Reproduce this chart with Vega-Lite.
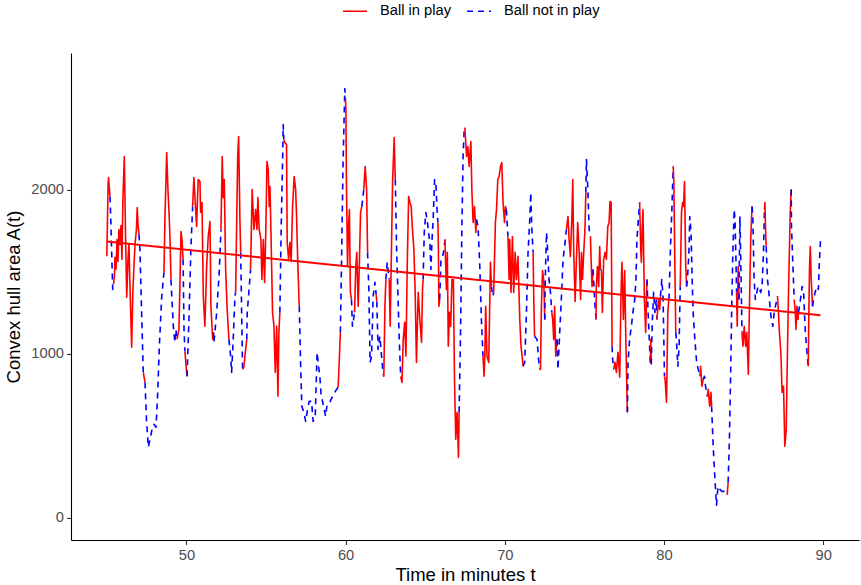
{
"$schema": "https://vega.github.io/schema/vega-lite/v6.json",
"width": 788, "height": 487,
"autosize": {"type": "none"},
"padding": {"left": 71, "top": 53, "right": 2, "bottom": 45},
"background": "white",
"config": {
 "view": {"stroke": null},
 "font": "Liberation Sans",
 "axis": {"grid": false, "domainColor": "black", "domainWidth": 1.1, "tickColor": "#333333", "tickWidth": 1.1, "tickSize": 4.5, "labelColor": "#4D4D4D", "labelFontSize": 14.7, "labelFont": "Liberation Sans", "titleFont": "Liberation Sans", "titleFontSize": 18.5, "titleFontWeight": "normal", "titleColor": "black", "labelPadding": 3}
},
"datasets": {
 "fit": [{"t": 45, "a": 1685}, {"t": 89.83, "a": 1234}],
 "d": [
{"t":45.00,"a":1595,"s":"R","g":1},{"t":45.08,"a":2032,"s":"R","g":1},{"t":45.11,"a":2075,"s":"R","g":1},{"t":45.16,"a":2002,"s":"R","g":1},{"t":45.20,"a":1959,"s":"R","g":1},
{"t":45.20,"a":1959,"s":"B","g":2},{"t":45.24,"a":1850,"s":"B","g":2},{"t":45.30,"a":1636,"s":"B","g":2},{"t":45.37,"a":1392,"s":"B","g":2},{"t":45.42,"a":1423,"s":"B","g":2},
{"t":45.42,"a":1423,"s":"R","g":3},{"t":45.48,"a":1478,"s":"R","g":3},{"t":45.51,"a":1588,"s":"R","g":3},{"t":45.58,"a":1515,"s":"R","g":3},{"t":45.64,"a":1697,"s":"R","g":3},{"t":45.70,"a":1563,"s":"R","g":3},{"t":45.76,"a":1758,"s":"R","g":3},{"t":45.83,"a":1667,"s":"R","g":3},{"t":45.89,"a":1782,"s":"R","g":3},{"t":45.95,"a":1576,"s":"R","g":3},{"t":46.01,"a":1941,"s":"R","g":3},{"t":46.10,"a":2203,"s":"R","g":3},{"t":46.17,"a":1758,"s":"R","g":3},{"t":46.25,"a":1344,"s":"R","g":3},{"t":46.33,"a":1576,"s":"R","g":3},{"t":46.39,"a":1667,"s":"R","g":3},{"t":46.46,"a":1392,"s":"R","g":3},{"t":46.56,"a":1039,"s":"R","g":3},{"t":46.64,"a":1392,"s":"R","g":3},{"t":46.77,"a":1667,"s":"R","g":3},{"t":46.86,"a":1758,"s":"R","g":3},{"t":46.91,"a":1892,"s":"R","g":3},{"t":46.96,"a":1789,"s":"R","g":3},{"t":47.02,"a":1728,"s":"R","g":3},
{"t":47.02,"a":1728,"s":"B","g":4},{"t":47.08,"a":1636,"s":"B","g":4},{"t":47.18,"a":1270,"s":"B","g":4},{"t":47.29,"a":886,"s":"B","g":4},
{"t":47.29,"a":886,"s":"R","g":5},{"t":47.40,"a":825,"s":"R","g":5},
{"t":47.40,"a":825,"s":"B","g":6},{"t":47.49,"a":599,"s":"B","g":6},{"t":47.61,"a":429,"s":"B","g":6},{"t":47.71,"a":477,"s":"B","g":6},{"t":47.84,"a":538,"s":"B","g":6},{"t":47.96,"a":569,"s":"B","g":6},{"t":48.09,"a":551,"s":"B","g":6},{"t":48.18,"a":722,"s":"B","g":6},{"t":48.30,"a":1045,"s":"B","g":6},{"t":48.45,"a":1350,"s":"B","g":6},{"t":48.59,"a":1496,"s":"B","g":6},
{"t":48.59,"a":1496,"s":"R","g":7},{"t":48.65,"a":1819,"s":"R","g":7},{"t":48.76,"a":2228,"s":"R","g":7},{"t":48.84,"a":2002,"s":"R","g":7},{"t":48.92,"a":1837,"s":"R","g":7},{"t":48.97,"a":1697,"s":"R","g":7},{"t":49.03,"a":1453,"s":"R","g":7},
{"t":49.03,"a":1453,"s":"B","g":8},{"t":49.09,"a":1331,"s":"B","g":8},{"t":49.19,"a":1148,"s":"B","g":8},{"t":49.28,"a":1069,"s":"B","g":8},{"t":49.34,"a":1148,"s":"B","g":8},{"t":49.41,"a":1087,"s":"B","g":8},
{"t":49.41,"a":1087,"s":"R","g":9},{"t":49.53,"a":1148,"s":"R","g":9},{"t":49.60,"a":1453,"s":"R","g":9},{"t":49.66,"a":1746,"s":"R","g":9},{"t":49.72,"a":1697,"s":"R","g":9},{"t":49.79,"a":1576,"s":"R","g":9},
{"t":49.79,"a":1576,"s":"B","g":10},{"t":49.85,"a":1148,"s":"B","g":10},{"t":49.91,"a":1014,"s":"B","g":10},
{"t":49.91,"a":1014,"s":"R","g":11},{"t":49.97,"a":935,"s":"R","g":11},{"t":50.04,"a":862,"s":"R","g":11},
{"t":50.04,"a":862,"s":"B","g":12},{"t":50.16,"a":1209,"s":"B","g":12},{"t":50.28,"a":1636,"s":"B","g":12},{"t":50.39,"a":1898,"s":"B","g":12},
{"t":50.39,"a":1898,"s":"R","g":13},{"t":50.47,"a":2075,"s":"R","g":13},{"t":50.64,"a":1776,"s":"R","g":13},{"t":50.74,"a":2063,"s":"R","g":13},{"t":50.85,"a":2051,"s":"R","g":13},{"t":50.89,"a":1862,"s":"R","g":13},{"t":50.98,"a":1923,"s":"R","g":13},{"t":51.06,"a":1350,"s":"R","g":13},{"t":51.16,"a":1167,"s":"R","g":13},{"t":51.27,"a":1532,"s":"R","g":13},{"t":51.37,"a":1715,"s":"R","g":13},{"t":51.48,"a":1807,"s":"R","g":13},{"t":51.54,"a":1289,"s":"R","g":13},{"t":51.65,"a":1087,"s":"R","g":13},{"t":51.70,"a":1130,"s":"R","g":13},
{"t":51.70,"a":1130,"s":"B","g":14},{"t":51.73,"a":1069,"s":"B","g":14},{"t":51.90,"a":1252,"s":"B","g":14},{"t":52.06,"a":1496,"s":"B","g":14},{"t":52.17,"a":1758,"s":"B","g":14},
{"t":52.17,"a":1758,"s":"R","g":15},{"t":52.25,"a":2203,"s":"R","g":15},{"t":52.31,"a":1953,"s":"R","g":15},{"t":52.38,"a":2063,"s":"R","g":15},{"t":52.46,"a":1532,"s":"R","g":15},{"t":52.56,"a":1270,"s":"R","g":15},{"t":52.67,"a":1087,"s":"R","g":15},
{"t":52.67,"a":1087,"s":"B","g":16},{"t":52.78,"a":984,"s":"B","g":16},{"t":52.84,"a":886,"s":"B","g":16},{"t":52.94,"a":1087,"s":"B","g":16},{"t":53.05,"a":1350,"s":"B","g":16},{"t":53.09,"a":1374,"s":"B","g":16},
{"t":53.09,"a":1374,"s":"R","g":17},{"t":53.22,"a":2203,"s":"R","g":17},{"t":53.28,"a":2325,"s":"R","g":17},{"t":53.36,"a":1819,"s":"R","g":17},{"t":53.41,"a":1618,"s":"R","g":17},
{"t":53.41,"a":1618,"s":"B","g":18},{"t":53.47,"a":1252,"s":"B","g":18},{"t":53.53,"a":904,"s":"B","g":18},
{"t":53.53,"a":904,"s":"R","g":19},{"t":53.61,"a":917,"s":"R","g":19},{"t":53.70,"a":1008,"s":"R","g":19},{"t":53.79,"a":1087,"s":"R","g":19},
{"t":53.79,"a":1087,"s":"B","g":20},{"t":53.82,"a":1252,"s":"B","g":20},{"t":53.95,"a":1410,"s":"B","g":20},{"t":54.03,"a":1514,"s":"B","g":20},
{"t":54.03,"a":1514,"s":"R","g":21},{"t":54.13,"a":2002,"s":"R","g":21},{"t":54.24,"a":1758,"s":"R","g":21},{"t":54.35,"a":1880,"s":"R","g":21},{"t":54.43,"a":1758,"s":"R","g":21},{"t":54.49,"a":1953,"s":"R","g":21},{"t":54.57,"a":1758,"s":"R","g":21},{"t":54.68,"a":1697,"s":"R","g":21},{"t":54.74,"a":1453,"s":"R","g":21},{"t":54.83,"a":1697,"s":"R","g":21},{"t":54.91,"a":1435,"s":"R","g":21},{"t":54.99,"a":1758,"s":"R","g":21},{"t":55.06,"a":2173,"s":"R","g":21},{"t":55.14,"a":2124,"s":"R","g":21},{"t":55.20,"a":1898,"s":"R","g":21},{"t":55.25,"a":2020,"s":"R","g":21},{"t":55.33,"a":1654,"s":"R","g":21},{"t":55.41,"a":1252,"s":"R","g":21},{"t":55.50,"a":1167,"s":"R","g":21},{"t":55.58,"a":886,"s":"R","g":21},{"t":55.67,"a":1167,"s":"R","g":21},{"t":55.75,"a":740,"s":"R","g":21},{"t":55.81,"a":1130,"s":"R","g":21},{"t":55.87,"a":1252,"s":"R","g":21},
{"t":55.87,"a":1252,"s":"B","g":22},{"t":55.95,"a":1758,"s":"B","g":22},{"t":56.04,"a":2167,"s":"B","g":22},{"t":56.08,"a":2398,"s":"B","g":22},{"t":56.12,"a":2307,"s":"B","g":22},
{"t":56.12,"a":2307,"s":"R","g":23},{"t":56.18,"a":2289,"s":"R","g":23},{"t":56.29,"a":2277,"s":"R","g":23},{"t":56.33,"a":1679,"s":"R","g":23},{"t":56.42,"a":1576,"s":"R","g":23},{"t":56.50,"a":1679,"s":"R","g":23},{"t":56.58,"a":1563,"s":"R","g":23},{"t":56.67,"a":1898,"s":"R","g":23},{"t":56.77,"a":2081,"s":"R","g":23},{"t":56.86,"a":2002,"s":"R","g":23},{"t":56.92,"a":1837,"s":"R","g":23},{"t":56.99,"a":1576,"s":"R","g":23},{"t":57.07,"a":1331,"s":"R","g":23},{"t":57.09,"a":1289,"s":"R","g":23},
{"t":57.09,"a":1289,"s":"B","g":24},{"t":57.17,"a":947,"s":"B","g":24},{"t":57.25,"a":679,"s":"B","g":24},{"t":57.38,"a":642,"s":"B","g":24},{"t":57.49,"a":587,"s":"B","g":24},{"t":57.59,"a":648,"s":"B","g":24},{"t":57.71,"a":709,"s":"B","g":24},{"t":57.86,"a":709,"s":"B","g":24},{"t":57.96,"a":587,"s":"B","g":24},{"t":58.09,"a":612,"s":"B","g":24},{"t":58.21,"a":1008,"s":"B","g":24},{"t":58.30,"a":923,"s":"B","g":24},{"t":58.38,"a":862,"s":"B","g":24},{"t":58.46,"a":752,"s":"B","g":24},{"t":58.59,"a":691,"s":"B","g":24},{"t":58.74,"a":618,"s":"B","g":24},{"t":58.84,"a":691,"s":"B","g":24},{"t":59.01,"a":703,"s":"B","g":24},{"t":59.18,"a":740,"s":"B","g":24},{"t":59.32,"a":764,"s":"B","g":24},{"t":59.43,"a":782,"s":"B","g":24},{"t":59.53,"a":795,"s":"B","g":24},
{"t":59.53,"a":795,"s":"R","g":25},{"t":59.58,"a":904,"s":"R","g":25},{"t":59.63,"a":1026,"s":"R","g":25},{"t":59.67,"a":1130,"s":"R","g":25},
{"t":59.67,"a":1130,"s":"B","g":26},{"t":59.74,"a":1532,"s":"B","g":26},{"t":59.84,"a":2167,"s":"B","g":26},{"t":59.95,"a":2618,"s":"B","g":26},{"t":59.99,"a":2551,"s":"B","g":26},
{"t":59.99,"a":2551,"s":"R","g":27},{"t":60.02,"a":2490,"s":"R","g":27},{"t":60.05,"a":2063,"s":"R","g":27},{"t":60.12,"a":1532,"s":"R","g":27},{"t":60.18,"a":1776,"s":"R","g":27},{"t":60.24,"a":1880,"s":"R","g":27},{"t":60.30,"a":1374,"s":"R","g":27},{"t":60.37,"a":1331,"s":"R","g":27},
{"t":60.37,"a":1331,"s":"B","g":28},{"t":60.43,"a":1167,"s":"B","g":28},{"t":60.50,"a":1209,"s":"B","g":28},{"t":60.56,"a":1252,"s":"B","g":28},
{"t":60.56,"a":1252,"s":"R","g":29},{"t":60.64,"a":1532,"s":"R","g":29},{"t":60.70,"a":1618,"s":"R","g":29},{"t":60.79,"a":1289,"s":"R","g":29},{"t":60.86,"a":1532,"s":"R","g":29},{"t":60.94,"a":1862,"s":"R","g":29},{"t":61.02,"a":1898,"s":"R","g":29},
{"t":61.02,"a":1898,"s":"B","g":30},{"t":61.14,"a":2002,"s":"B","g":30},
{"t":61.14,"a":2002,"s":"R","g":31},{"t":61.23,"a":2142,"s":"R","g":31},{"t":61.32,"a":2002,"s":"R","g":31},{"t":61.38,"a":1618,"s":"R","g":31},
{"t":61.38,"a":1618,"s":"B","g":32},{"t":61.46,"a":1392,"s":"B","g":32},{"t":61.54,"a":947,"s":"B","g":32},{"t":61.63,"a":984,"s":"B","g":32},{"t":61.73,"a":1350,"s":"B","g":32},{"t":61.84,"a":1435,"s":"B","g":32},{"t":61.92,"a":1362,"s":"B","g":32},
{"t":61.92,"a":1362,"s":"R","g":33},{"t":61.96,"a":1319,"s":"R","g":33},
{"t":61.96,"a":1319,"s":"B","g":34},{"t":62.04,"a":1026,"s":"B","g":34},{"t":62.15,"a":1106,"s":"B","g":34},{"t":62.26,"a":984,"s":"B","g":34},{"t":62.36,"a":874,"s":"B","g":34},
{"t":62.36,"a":874,"s":"R","g":35},{"t":62.40,"a":862,"s":"R","g":35},{"t":62.47,"a":1289,"s":"R","g":35},{"t":62.53,"a":1453,"s":"R","g":35},
{"t":62.53,"a":1453,"s":"B","g":36},{"t":62.61,"a":1557,"s":"B","g":36},{"t":62.70,"a":1484,"s":"B","g":36},{"t":62.74,"a":1453,"s":"B","g":36},
{"t":62.74,"a":1453,"s":"R","g":37},{"t":62.80,"a":1167,"s":"R","g":37},{"t":62.89,"a":1697,"s":"R","g":37},{"t":62.95,"a":2045,"s":"R","g":37},{"t":63.05,"a":2319,"s":"R","g":37},{"t":63.12,"a":2063,"s":"R","g":37},
{"t":63.12,"a":2063,"s":"B","g":38},{"t":63.20,"a":1654,"s":"B","g":38},{"t":63.29,"a":1350,"s":"B","g":38},{"t":63.37,"a":1087,"s":"B","g":38},{"t":63.46,"a":862,"s":"B","g":38},
{"t":63.46,"a":862,"s":"R","g":39},{"t":63.54,"a":825,"s":"R","g":39},{"t":63.62,"a":1087,"s":"R","g":39},{"t":63.71,"a":1191,"s":"R","g":39},{"t":63.79,"a":984,"s":"R","g":39},{"t":63.87,"a":1532,"s":"R","g":39},{"t":63.96,"a":1959,"s":"R","g":39},{"t":64.04,"a":1923,"s":"R","g":39},{"t":64.12,"a":1898,"s":"R","g":39},{"t":64.20,"a":1758,"s":"R","g":39},{"t":64.29,"a":1636,"s":"R","g":39},{"t":64.37,"a":1374,"s":"R","g":39},{"t":64.45,"a":947,"s":"R","g":39},{"t":64.56,"a":1374,"s":"R","g":39},{"t":64.66,"a":1209,"s":"R","g":39},{"t":64.77,"a":1069,"s":"R","g":39},{"t":64.83,"a":1392,"s":"R","g":39},{"t":64.87,"a":1453,"s":"R","g":39},
{"t":64.87,"a":1453,"s":"B","g":40},{"t":64.94,"a":1740,"s":"B","g":40},{"t":65.04,"a":1862,"s":"B","g":40},{"t":65.12,"a":1819,"s":"B","g":40},{"t":65.19,"a":1758,"s":"B","g":40},{"t":65.29,"a":1679,"s":"B","g":40},{"t":65.36,"a":1514,"s":"B","g":40},{"t":65.42,"a":1679,"s":"B","g":40},{"t":65.50,"a":1819,"s":"B","g":40},{"t":65.59,"a":2063,"s":"B","g":40},{"t":65.67,"a":2045,"s":"B","g":40},{"t":65.75,"a":1862,"s":"B","g":40},{"t":65.80,"a":1801,"s":"B","g":40},
{"t":65.80,"a":1801,"s":"R","g":41},{"t":65.83,"a":1636,"s":"R","g":41},{"t":65.86,"a":1289,"s":"R","g":41},{"t":65.91,"a":1331,"s":"R","g":41},
{"t":65.91,"a":1331,"s":"B","g":42},{"t":65.99,"a":1576,"s":"B","g":42},{"t":66.10,"a":1594,"s":"B","g":42},{"t":66.18,"a":1636,"s":"B","g":42},{"t":66.24,"a":1697,"s":"B","g":42},
{"t":66.24,"a":1697,"s":"R","g":43},{"t":66.33,"a":1392,"s":"R","g":43},{"t":66.39,"a":1618,"s":"R","g":43},{"t":66.45,"a":1045,"s":"R","g":43},{"t":66.53,"a":1252,"s":"R","g":43},{"t":66.60,"a":1167,"s":"R","g":43},{"t":66.68,"a":1453,"s":"R","g":43},{"t":66.77,"a":1453,"s":"R","g":43},{"t":66.84,"a":843,"s":"R","g":43},{"t":66.92,"a":478,"s":"R","g":43},{"t":67.00,"a":642,"s":"R","g":43},{"t":67.09,"a":368,"s":"R","g":43},{"t":67.13,"a":642,"s":"R","g":43},
{"t":67.13,"a":642,"s":"B","g":44},{"t":67.22,"a":1130,"s":"B","g":44},{"t":67.30,"a":1740,"s":"B","g":44},{"t":67.38,"a":2203,"s":"B","g":44},{"t":67.45,"a":2368,"s":"B","g":44},{"t":67.49,"a":2380,"s":"B","g":44},
{"t":67.49,"a":2380,"s":"R","g":45},{"t":67.60,"a":2203,"s":"R","g":45},{"t":67.68,"a":2264,"s":"R","g":45},{"t":67.76,"a":2142,"s":"R","g":45},{"t":67.87,"a":2295,"s":"R","g":45},{"t":67.93,"a":2002,"s":"R","g":45},{"t":68.01,"a":1801,"s":"R","g":45},{"t":68.10,"a":1898,"s":"R","g":45},{"t":68.18,"a":1740,"s":"R","g":45},{"t":68.22,"a":1819,"s":"R","g":45},
{"t":68.22,"a":1819,"s":"B","g":46},{"t":68.32,"a":1776,"s":"B","g":46},{"t":68.43,"a":1532,"s":"B","g":46},{"t":68.53,"a":1209,"s":"B","g":46},{"t":68.63,"a":984,"s":"B","g":46},
{"t":68.63,"a":984,"s":"R","g":47},{"t":68.70,"a":862,"s":"R","g":47},{"t":68.74,"a":965,"s":"R","g":47},{"t":68.80,"a":1289,"s":"R","g":47},{"t":68.88,"a":984,"s":"R","g":47},{"t":68.99,"a":947,"s":"R","g":47},{"t":69.10,"a":1557,"s":"R","g":47},{"t":69.16,"a":1410,"s":"R","g":47},
{"t":69.16,"a":1410,"s":"B","g":48},{"t":69.26,"a":1350,"s":"B","g":48},{"t":69.30,"a":1374,"s":"B","g":48},
{"t":69.30,"a":1374,"s":"R","g":49},{"t":69.41,"a":1801,"s":"R","g":49},{"t":69.48,"a":1880,"s":"R","g":49},{"t":69.56,"a":2063,"s":"R","g":49},{"t":69.64,"a":2081,"s":"R","g":49},{"t":69.73,"a":2142,"s":"R","g":49},{"t":69.81,"a":2167,"s":"R","g":49},{"t":69.89,"a":1923,"s":"R","g":49},{"t":69.98,"a":1801,"s":"R","g":49},{"t":70.04,"a":1898,"s":"R","g":49},{"t":70.10,"a":1880,"s":"R","g":49},
{"t":70.10,"a":1880,"s":"B","g":50},{"t":70.16,"a":1776,"s":"B","g":50},{"t":70.20,"a":1715,"s":"B","g":50},
{"t":70.20,"a":1715,"s":"R","g":51},{"t":70.27,"a":1453,"s":"R","g":51},{"t":70.31,"a":1697,"s":"R","g":51},{"t":70.39,"a":1374,"s":"R","g":51},{"t":70.48,"a":1715,"s":"R","g":51},{"t":70.56,"a":1374,"s":"R","g":51},{"t":70.65,"a":1618,"s":"R","g":51},{"t":70.73,"a":1453,"s":"R","g":51},{"t":70.83,"a":1594,"s":"R","g":51},{"t":70.94,"a":1209,"s":"R","g":51},{"t":71.02,"a":1045,"s":"R","g":51},{"t":71.11,"a":965,"s":"R","g":51},{"t":71.15,"a":923,"s":"R","g":51},
{"t":71.15,"a":923,"s":"B","g":52},{"t":71.25,"a":947,"s":"B","g":52},{"t":71.36,"a":1252,"s":"B","g":52},{"t":71.46,"a":1618,"s":"B","g":52},{"t":71.57,"a":1819,"s":"B","g":52},{"t":71.63,"a":1983,"s":"B","g":52},{"t":71.70,"a":1758,"s":"B","g":52},{"t":71.78,"a":1618,"s":"B","g":52},
{"t":71.78,"a":1618,"s":"R","g":53},{"t":71.82,"a":1331,"s":"R","g":53},{"t":71.87,"a":1106,"s":"R","g":53},
{"t":71.87,"a":1106,"s":"B","g":54},{"t":72.03,"a":1087,"s":"B","g":54},{"t":72.12,"a":965,"s":"B","g":54},{"t":72.20,"a":904,"s":"B","g":54},
{"t":72.20,"a":904,"s":"R","g":55},{"t":72.24,"a":904,"s":"R","g":55},{"t":72.30,"a":1289,"s":"R","g":55},{"t":72.37,"a":1508,"s":"R","g":55},{"t":72.45,"a":1447,"s":"R","g":55},{"t":72.51,"a":1209,"s":"R","g":55},
{"t":72.51,"a":1209,"s":"B","g":56},{"t":72.54,"a":1453,"s":"B","g":56},{"t":72.62,"a":1740,"s":"B","g":56},{"t":72.70,"a":1618,"s":"B","g":56},{"t":72.78,"a":1453,"s":"B","g":56},{"t":72.87,"a":1374,"s":"B","g":56},{"t":72.95,"a":1252,"s":"B","g":56},
{"t":72.95,"a":1252,"s":"R","g":57},{"t":73.01,"a":1209,"s":"R","g":57},{"t":73.07,"a":1087,"s":"R","g":57},{"t":73.13,"a":1289,"s":"R","g":57},{"t":73.20,"a":984,"s":"R","g":57},{"t":73.28,"a":1087,"s":"R","g":57},
{"t":73.28,"a":1087,"s":"B","g":58},{"t":73.34,"a":904,"s":"B","g":58},{"t":73.45,"a":1130,"s":"B","g":58},{"t":73.55,"a":1331,"s":"B","g":58},{"t":73.66,"a":1576,"s":"B","g":58},{"t":73.76,"a":1654,"s":"B","g":58},{"t":73.87,"a":1758,"s":"B","g":58},
{"t":73.87,"a":1758,"s":"R","g":59},{"t":73.97,"a":1837,"s":"R","g":59},{"t":74.04,"a":1697,"s":"R","g":59},{"t":74.12,"a":1594,"s":"R","g":59},{"t":74.21,"a":1819,"s":"R","g":59},{"t":74.27,"a":2063,"s":"R","g":59},{"t":74.33,"a":1618,"s":"R","g":59},{"t":74.42,"a":1319,"s":"R","g":59},{"t":74.50,"a":1576,"s":"R","g":59},{"t":74.58,"a":1801,"s":"R","g":59},{"t":74.67,"a":1618,"s":"R","g":59},{"t":74.76,"a":1331,"s":"R","g":59},{"t":74.82,"a":1618,"s":"R","g":59},{"t":74.88,"a":1453,"s":"R","g":59},{"t":74.96,"a":1618,"s":"R","g":59},{"t":75.04,"a":1776,"s":"R","g":59},{"t":75.09,"a":1983,"s":"R","g":59},
{"t":75.09,"a":1983,"s":"B","g":60},{"t":75.13,"a":2185,"s":"B","g":60},{"t":75.21,"a":2020,"s":"B","g":60},{"t":75.30,"a":1758,"s":"B","g":60},{"t":75.38,"a":1715,"s":"B","g":60},
{"t":75.38,"a":1715,"s":"R","g":61},{"t":75.42,"a":1576,"s":"R","g":61},{"t":75.48,"a":1410,"s":"R","g":61},{"t":75.54,"a":1514,"s":"R","g":61},
{"t":75.54,"a":1514,"s":"B","g":62},{"t":75.67,"a":1289,"s":"B","g":62},{"t":75.73,"a":1209,"s":"B","g":62},
{"t":75.73,"a":1209,"s":"R","g":63},{"t":75.75,"a":1410,"s":"R","g":63},{"t":75.82,"a":1532,"s":"R","g":63},{"t":75.90,"a":1410,"s":"R","g":63},{"t":75.96,"a":1654,"s":"R","g":63},{"t":76.01,"a":1514,"s":"R","g":63},
{"t":76.01,"a":1514,"s":"B","g":64},{"t":76.07,"a":1508,"s":"B","g":64},
{"t":76.07,"a":1508,"s":"R","g":65},{"t":76.13,"a":1252,"s":"R","g":65},{"t":76.21,"a":1576,"s":"R","g":65},{"t":76.30,"a":1618,"s":"R","g":65},{"t":76.38,"a":1576,"s":"R","g":65},{"t":76.47,"a":1776,"s":"R","g":65},{"t":76.55,"a":1801,"s":"R","g":65},{"t":76.61,"a":1929,"s":"R","g":65},{"t":76.68,"a":1923,"s":"R","g":65},{"t":76.74,"a":1045,"s":"R","g":65},
{"t":76.74,"a":1045,"s":"B","g":66},{"t":76.76,"a":984,"s":"B","g":66},{"t":76.84,"a":904,"s":"B","g":66},
{"t":76.84,"a":904,"s":"R","g":67},{"t":76.92,"a":947,"s":"R","g":67},{"t":77.01,"a":886,"s":"R","g":67},{"t":77.11,"a":1008,"s":"R","g":67},{"t":77.22,"a":856,"s":"R","g":67},{"t":77.30,"a":1374,"s":"R","g":67},{"t":77.36,"a":1557,"s":"R","g":67},{"t":77.45,"a":1209,"s":"R","g":67},{"t":77.53,"a":1508,"s":"R","g":67},{"t":77.61,"a":1045,"s":"R","g":67},{"t":77.70,"a":642,"s":"R","g":67},
{"t":77.70,"a":642,"s":"B","g":68},{"t":77.74,"a":947,"s":"B","g":68},{"t":77.84,"a":1087,"s":"B","g":68},{"t":77.95,"a":1167,"s":"B","g":68},{"t":78.05,"a":1252,"s":"B","g":68},{"t":78.16,"a":1331,"s":"B","g":68},{"t":78.24,"a":1453,"s":"B","g":68},{"t":78.30,"a":1697,"s":"B","g":68},{"t":78.39,"a":1819,"s":"B","g":68},{"t":78.47,"a":1923,"s":"B","g":68},
{"t":78.47,"a":1923,"s":"R","g":69},{"t":78.54,"a":1636,"s":"R","g":69},{"t":78.58,"a":1557,"s":"R","g":69},{"t":78.63,"a":1758,"s":"R","g":69},{"t":78.68,"a":1880,"s":"R","g":69},{"t":78.77,"a":1331,"s":"R","g":69},{"t":78.85,"a":1130,"s":"R","g":69},{"t":78.93,"a":1453,"s":"R","g":69},
{"t":78.93,"a":1453,"s":"B","g":70},{"t":79.00,"a":1252,"s":"B","g":70},{"t":79.06,"a":1130,"s":"B","g":70},{"t":79.14,"a":947,"s":"B","g":70},
{"t":79.14,"a":947,"s":"R","g":71},{"t":79.17,"a":1087,"s":"R","g":71},{"t":79.20,"a":935,"s":"R","g":71},
{"t":79.20,"a":935,"s":"B","g":72},{"t":79.27,"a":1209,"s":"B","g":72},{"t":79.35,"a":1374,"s":"B","g":72},{"t":79.43,"a":1252,"s":"B","g":72},{"t":79.52,"a":1331,"s":"B","g":72},{"t":79.56,"a":1209,"s":"B","g":72},
{"t":79.56,"a":1209,"s":"R","g":73},{"t":79.65,"a":1331,"s":"R","g":73},{"t":79.73,"a":1270,"s":"R","g":73},{"t":79.78,"a":1350,"s":"R","g":73},
{"t":79.78,"a":1350,"s":"B","g":74},{"t":79.86,"a":1453,"s":"B","g":74},{"t":79.94,"a":1350,"s":"B","g":74},{"t":80.03,"a":862,"s":"B","g":74},
{"t":80.03,"a":862,"s":"R","g":75},{"t":80.07,"a":843,"s":"R","g":75},{"t":80.16,"a":703,"s":"R","g":75},{"t":80.24,"a":1252,"s":"R","g":75},{"t":80.30,"a":1331,"s":"R","g":75},
{"t":80.30,"a":1331,"s":"B","g":76},{"t":80.32,"a":1350,"s":"B","g":76},{"t":80.41,"a":1654,"s":"B","g":76},{"t":80.49,"a":1862,"s":"B","g":76},{"t":80.58,"a":2142,"s":"B","g":76},
{"t":80.58,"a":2142,"s":"R","g":77},{"t":80.62,"a":2045,"s":"R","g":77},{"t":80.68,"a":1557,"s":"R","g":77},{"t":80.74,"a":1130,"s":"R","g":77},
{"t":80.74,"a":1130,"s":"B","g":78},{"t":80.78,"a":1087,"s":"B","g":78},{"t":80.87,"a":923,"s":"B","g":78},{"t":80.95,"a":1045,"s":"B","g":78},{"t":81.02,"a":1410,"s":"B","g":78},
{"t":81.02,"a":1410,"s":"R","g":79},{"t":81.10,"a":1862,"s":"R","g":79},{"t":81.17,"a":1923,"s":"R","g":79},{"t":81.23,"a":1898,"s":"R","g":79},{"t":81.29,"a":2051,"s":"R","g":79},{"t":81.36,"a":1557,"s":"R","g":79},{"t":81.42,"a":1410,"s":"R","g":79},
{"t":81.42,"a":1410,"s":"B","g":80},{"t":81.47,"a":1453,"s":"B","g":80},{"t":81.52,"a":1532,"s":"B","g":80},{"t":81.58,"a":1654,"s":"B","g":80},{"t":81.62,"a":1837,"s":"B","g":80},{"t":81.70,"a":1740,"s":"B","g":80},{"t":81.77,"a":1453,"s":"B","g":80},{"t":81.83,"a":1252,"s":"B","g":80},{"t":81.94,"a":1087,"s":"B","g":80},{"t":82.05,"a":947,"s":"B","g":80},{"t":82.15,"a":904,"s":"B","g":80},{"t":82.26,"a":862,"s":"B","g":80},
{"t":82.26,"a":862,"s":"R","g":81},{"t":82.30,"a":923,"s":"R","g":81},{"t":82.38,"a":801,"s":"R","g":81},{"t":82.46,"a":843,"s":"R","g":81},
{"t":82.46,"a":843,"s":"B","g":82},{"t":82.54,"a":862,"s":"B","g":82},{"t":82.61,"a":801,"s":"B","g":82},{"t":82.72,"a":740,"s":"B","g":82},
{"t":82.72,"a":740,"s":"R","g":83},{"t":82.78,"a":782,"s":"R","g":83},{"t":82.83,"a":722,"s":"R","g":83},{"t":82.87,"a":679,"s":"R","g":83},{"t":82.95,"a":764,"s":"R","g":83},{"t":82.99,"a":679,"s":"R","g":83},
{"t":82.99,"a":679,"s":"B","g":84},{"t":83.09,"a":435,"s":"B","g":84},{"t":83.20,"a":234,"s":"B","g":84},{"t":83.30,"a":75,"s":"B","g":84},{"t":83.39,"a":190,"s":"B","g":84},{"t":83.51,"a":172,"s":"B","g":84},{"t":83.64,"a":160,"s":"B","g":84},{"t":83.76,"a":160,"s":"B","g":84},{"t":83.93,"a":142,"s":"B","g":84},
{"t":83.93,"a":142,"s":"R","g":85},{"t":83.97,"a":142,"s":"R","g":85},{"t":84.03,"a":214,"s":"R","g":85},
{"t":84.03,"a":214,"s":"B","g":86},{"t":84.11,"a":478,"s":"B","g":86},{"t":84.18,"a":843,"s":"B","g":86},{"t":84.25,"a":1252,"s":"B","g":86},{"t":84.33,"a":1636,"s":"B","g":86},{"t":84.41,"a":1880,"s":"B","g":86},{"t":84.46,"a":1819,"s":"B","g":86},{"t":84.52,"a":1576,"s":"B","g":86},{"t":84.56,"a":1374,"s":"B","g":86},
{"t":84.56,"a":1374,"s":"R","g":87},{"t":84.60,"a":1167,"s":"R","g":87},{"t":84.66,"a":1532,"s":"R","g":87},{"t":84.71,"a":1331,"s":"R","g":87},
{"t":84.71,"a":1331,"s":"B","g":88},{"t":84.73,"a":1532,"s":"B","g":88},{"t":84.77,"a":1838,"s":"B","g":88},{"t":84.83,"a":1532,"s":"B","g":88},{"t":84.90,"a":1130,"s":"B","g":88},
{"t":84.90,"a":1130,"s":"R","g":89},{"t":84.96,"a":1045,"s":"R","g":89},{"t":85.04,"a":1167,"s":"R","g":89},{"t":85.13,"a":1045,"s":"R","g":89},{"t":85.20,"a":1130,"s":"R","g":89},{"t":85.30,"a":874,"s":"R","g":89},{"t":85.36,"a":1252,"s":"R","g":89},{"t":85.45,"a":1697,"s":"R","g":89},{"t":85.53,"a":1898,"s":"R","g":89},
{"t":85.53,"a":1898,"s":"B","g":90},{"t":85.58,"a":1837,"s":"B","g":90},{"t":85.66,"a":1453,"s":"B","g":90},{"t":85.74,"a":1331,"s":"B","g":90},{"t":85.83,"a":1374,"s":"B","g":90},{"t":85.91,"a":1410,"s":"B","g":90},{"t":86.00,"a":1392,"s":"B","g":90},{"t":86.08,"a":1374,"s":"B","g":90},{"t":86.16,"a":1410,"s":"B","g":90},{"t":86.25,"a":1618,"s":"B","g":90},{"t":86.31,"a":1880,"s":"B","g":90},
{"t":86.31,"a":1880,"s":"R","g":91},{"t":86.34,"a":1923,"s":"R","g":91},{"t":86.37,"a":1789,"s":"R","g":91},{"t":86.42,"a":1654,"s":"R","g":91},
{"t":86.42,"a":1654,"s":"B","g":92},{"t":86.50,"a":1453,"s":"B","g":92},{"t":86.59,"a":1374,"s":"B","g":92},{"t":86.67,"a":1270,"s":"B","g":92},{"t":86.75,"a":1209,"s":"B","g":92},{"t":86.84,"a":1167,"s":"B","g":92},{"t":86.92,"a":1252,"s":"B","g":92},{"t":87.00,"a":1289,"s":"B","g":92},{"t":87.13,"a":1350,"s":"B","g":92},
{"t":87.13,"a":1350,"s":"R","g":93},{"t":87.19,"a":1252,"s":"R","g":93},{"t":87.25,"a":1130,"s":"R","g":93},{"t":87.34,"a":1008,"s":"R","g":93},{"t":87.42,"a":764,"s":"R","g":93},{"t":87.51,"a":801,"s":"R","g":93},{"t":87.59,"a":435,"s":"R","g":93},{"t":87.68,"a":539,"s":"R","g":93},{"t":87.76,"a":1045,"s":"R","g":93},{"t":87.85,"a":1508,"s":"R","g":93},{"t":87.93,"a":1862,"s":"R","g":93},{"t":87.99,"a":2002,"s":"R","g":93},
{"t":87.99,"a":2002,"s":"B","g":94},{"t":88.01,"a":1776,"s":"B","g":94},{"t":88.10,"a":1532,"s":"B","g":94},{"t":88.18,"a":1331,"s":"B","g":94},
{"t":88.18,"a":1331,"s":"R","g":95},{"t":88.25,"a":1252,"s":"R","g":95},{"t":88.29,"a":1148,"s":"R","g":95},{"t":88.35,"a":1289,"s":"R","g":95},{"t":88.42,"a":1209,"s":"R","g":95},{"t":88.45,"a":1252,"s":"R","g":95},
{"t":88.45,"a":1252,"s":"B","g":96},{"t":88.51,"a":1289,"s":"B","g":96},{"t":88.60,"a":1350,"s":"B","g":96},{"t":88.68,"a":1410,"s":"B","g":96},{"t":88.77,"a":1374,"s":"B","g":96},{"t":88.87,"a":1148,"s":"B","g":96},{"t":88.98,"a":1008,"s":"B","g":96},{"t":89.06,"a":923,"s":"B","g":96},
{"t":89.06,"a":923,"s":"R","g":97},{"t":89.10,"a":1252,"s":"R","g":97},{"t":89.14,"a":1514,"s":"R","g":97},{"t":89.19,"a":1654,"s":"R","g":97},{"t":89.25,"a":1453,"s":"R","g":97},{"t":89.33,"a":1289,"s":"R","g":97},
{"t":89.33,"a":1289,"s":"B","g":98},{"t":89.40,"a":1331,"s":"B","g":98},{"t":89.49,"a":1374,"s":"B","g":98},{"t":89.60,"a":1410,"s":"B","g":98},{"t":89.70,"a":1392,"s":"B","g":98},{"t":89.76,"a":1557,"s":"B","g":98},{"t":89.83,"a":1686,"s":"B","g":98}
 ]
},
"layer": [
 {
  "data": {"name": "d"},
  "mark": {"type": "line", "strokeWidth": 1.6, "strokeCap": "butt", "strokeJoin": "round"},
  "encoding": {
   "x": {"field": "t", "type": "quantitative", "scale": {"domain": [42.75, 92.25], "nice": false, "zero": false}, "axis": {"values": [50, 60, 70, 80, 90], "format": "d", "title": "Time in minutes t", "titlePadding": 3}},
   "y": {"field": "a", "type": "quantitative", "scale": {"domain": [-137, 2835], "nice": false, "zero": false}, "axis": {"values": [0, 1000, 2000], "format": "d", "title": "Convex hull area A(t)", "titlePadding": 7}},
   "color": {"field": "s", "type": "nominal", "scale": {"domain": ["R", "B"], "range": ["#FF0000", "#0000FF"]}, "legend": {"title": null, "orient": "none", "legendX": 271, "legendY": -55, "direction": "horizontal", "symbolType": "stroke", "symbolSize": 576, "symbolStrokeWidth": 1.5, "labelFontSize": 14.7, "labelColor": "black", "labelFont": "Liberation Sans", "labelOffset": 12, "columnPadding": 12, "labelExpr": "datum.label == 'R' ? 'Ball in play' : 'Ball not in play'"}},
   "strokeDash": {"field": "s", "type": "nominal", "scale": {"domain": ["R", "B"], "range": [[1, 0], [6, 5]]}, "legend": {"title": null, "orient": "none", "legendX": 271, "legendY": -55, "direction": "horizontal", "symbolType": "stroke", "symbolSize": 576, "symbolStrokeWidth": 1.5, "labelFontSize": 14.7, "labelColor": "black", "labelFont": "Liberation Sans", "labelOffset": 12, "columnPadding": 12, "labelExpr": "datum.label == 'R' ? 'Ball in play' : 'Ball not in play'"}},
   "detail": {"field": "g", "type": "nominal"}
  }
 },
 {
  "data": {"name": "fit"},
  "mark": {"type": "line", "color": "#FF0000", "strokeWidth": 2},
  "encoding": {
   "x": {"field": "t", "type": "quantitative"},
   "y": {"field": "a", "type": "quantitative"}
  }
 }
]
}
